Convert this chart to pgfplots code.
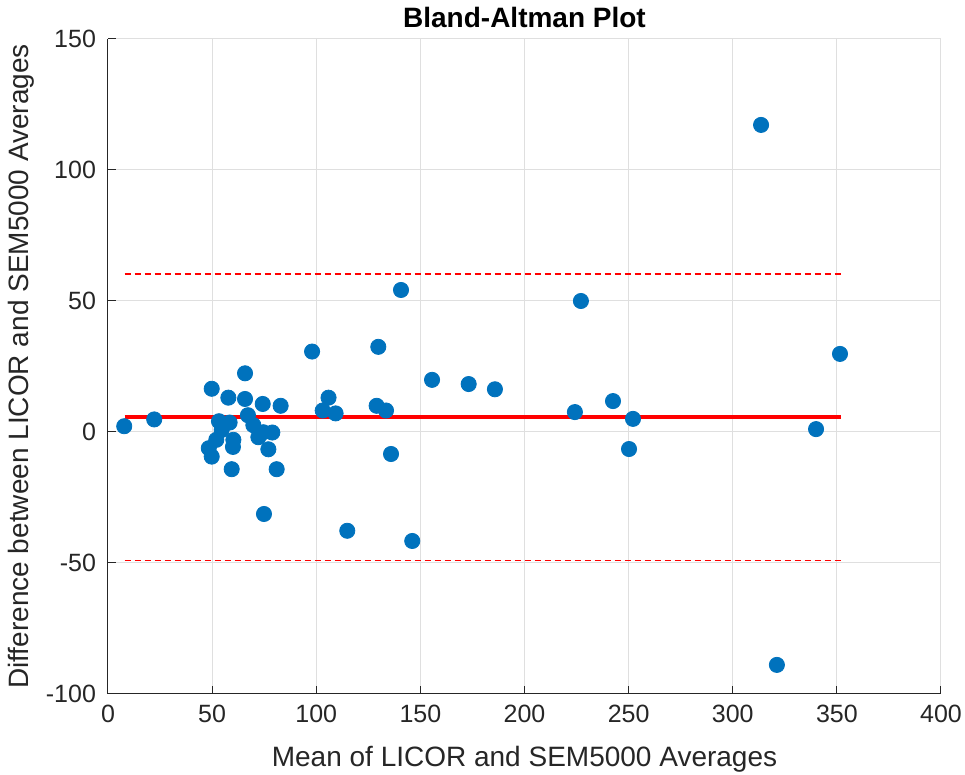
\documentclass[border=0pt]{standalone}
\usepackage{fontspec}
\setmainfont{Liberation Sans}
\usepackage{pgfplots}
\pgfplotsset{compat=1.18}
\definecolor{mblue}{RGB}{0,114,189}
\definecolor{mtext}{RGB}{38,38,38}
\definecolor{mgrid}{RGB}{223,223,223}
\begin{document}
\begin{tikzpicture}
  \begin{axis}[
      scale only axis,
      width=416.5pt, height=327.5pt,
      xmin=0, xmax=400, ymin=-100, ymax=150,
      xtick={0,50,...,400},
      ytick={-100,-50,...,150},
      axis x line*=bottom,
      axis y line*=left,
      axis line style={mtext, line width=0.5pt},
      tick style={mtext, line width=0.5pt},
      tick align=inside,
      major tick length=4pt,
      grid=major,
      grid style={mgrid, line width=0.5pt},
      ticklabel style={font=\fontsize{12.5}{14}\selectfont, text=mtext},
      xticklabel style={yshift=-2pt},
      yticklabel style={xshift=-2.5pt},
      /pgf/number format/assume math mode=true,
      xlabel={Mean of LICOR and SEM5000 Averages},
      ylabel={Difference between LICOR and SEM5000 Averages},
      label style={font=\fontsize{14}{16}\selectfont, text=mtext},
      xlabel style={yshift=-5pt},
      ylabel style={yshift=-1pt},
      title={\textbf{Bland-Altman Plot}},
      title style={font=\fontsize{14}{16}\selectfont, yshift=-4pt},
      clip=false,
    ]
    \coordinate (sw) at (rel axis cs:0,0);
    \coordinate (ne) at (rel axis cs:1,1);
    \addplot[only marks, mark=*, mark size=3.8pt, mblue, mark options={draw=mblue, fill=mblue}] coordinates {
      (7.8,2.2) (22.2,4.8)
      (49.8,16.5) (65.8,22.4) (57.8,13.1) (65.8,12.6) (74.3,10.7) (82.9,10.0)
      (67.2,6.4) (53.3,4.1) (58.4,3.6) (69.8,2.6) (54.6,0.8)
      (74.6,-0.1) (78.9,-0.2) (72.2,-2.0) (52.0,-3.0) (60.2,-3.0)
      (48.4,-6.2) (60.0,-5.7) (49.8,-9.4) (77.0,-6.6)
      (59.4,-14.2) (81.0,-14.2) (74.9,-31.3)
      (98.0,30.7) (129.8,32.5) (105.9,13.1) (103.1,8.2) (109.3,7.1)
      (129.0,10.0) (133.5,8.2) (135.9,-8.4) (114.9,-37.7) (146.1,-41.6)
      (140.7,54.2) (155.6,19.9) (173.2,18.3) (185.8,16.3)
      (227.1,50.0) (224.2,7.6) (242.5,11.8) (252.1,5.0) (250.2,-6.5)
      (313.6,117.2) (321.2,-88.9) (340.0,1.1) (351.5,29.8)
    };
    \addplot[red, line width=2pt] coordinates {(8,5.6) (352,5.6)};
    \addplot[red, line width=0.6pt, dash pattern=on 3pt off 2pt] coordinates {(8,60.3) (352,60.3)};
    \addplot[red, line width=0.6pt, dash pattern=on 3pt off 2pt] coordinates {(8,-49.2) (352,-49.2)};
  \end{axis}
  \pgfresetboundingbox
  \path ([shift={(-54pt,-40.5pt)}]sw) rectangle ([shift={(12pt,19.5pt)}]ne);
\end{tikzpicture}
\end{document}
